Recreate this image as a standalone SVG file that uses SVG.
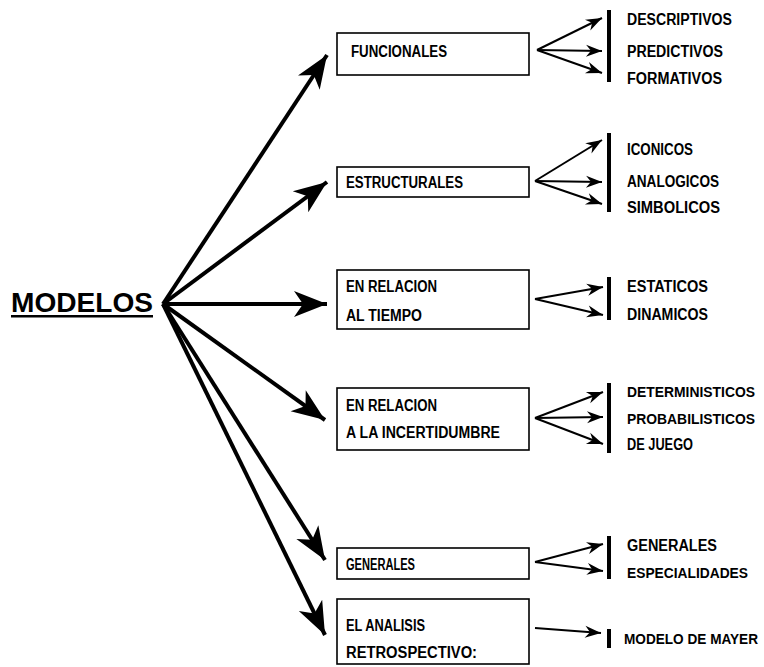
<svg xmlns="http://www.w3.org/2000/svg" width="764" height="667" viewBox="0 0 764 667">
  <style>
    .box { fill: none; stroke: #000; stroke-width: 1.6; }
    .lbl { font-family: "Liberation Sans", Arial, sans-serif; font-weight: bold; font-size: 16px; fill: #000; }
    .narrow { font-size: 14px; }
    .main { stroke: #000; stroke-width: 4; fill: none; marker-end: url(#bigHead); }
    .fan { stroke: #000; stroke-width: 2; fill: none; marker-end: url(#smallHead); }
    .bar { fill: #000; }
  </style>
  <defs>
    <marker id="bigHead" markerUnits="userSpaceOnUse" viewBox="-34 -15 36 30" markerWidth="36" markerHeight="30" refX="0" refY="0" orient="auto">
      <path d="M0,0 L-33,-13 L-24,0 L-33,13 Z" fill="#000"/>
    </marker>
    <marker id="smallHead" markerUnits="userSpaceOnUse" viewBox="-17 -7 18 14" markerWidth="18" markerHeight="14" refX="0" refY="0" orient="auto">
      <path d="M0,0 L-16,-6 L-11,0 L-16,6 Z" fill="#000"/>
    </marker>
  </defs>
  <rect width="764" height="667" fill="#fff"/>

  <!-- root node -->
  <g id="modelos">
    <text x="11" y="312" font-family="'Liberation Sans', Arial, sans-serif" font-weight="bold" font-size="28" textLength="142" lengthAdjust="spacingAndGlyphs">MODELOS</text>
    <rect x="11" y="315" width="142" height="2.5" fill="#000"/>
  </g>

  <!-- connectors -->
  <g id="connectors">
    <line class="main" x1="163" y1="304" x2="327" y2="55"/>
    <line class="main" x1="163" y1="304" x2="327" y2="182"/>
    <line class="main" x1="163" y1="304" x2="327" y2="304"/>
    <line class="main" x1="163" y1="304" x2="325" y2="420"/>
    <line class="main" x1="163" y1="304" x2="325" y2="560"/>
    <line class="main" x1="163" y1="304" x2="325" y2="635"/>

    <line class="fan" x1="537" y1="50" x2="602" y2="18"/>
    <line class="fan" x1="537" y1="50" x2="602" y2="51"/>
    <line class="fan" x1="537" y1="50" x2="602" y2="73"/>

    <line class="fan" x1="535" y1="181" x2="602" y2="140"/>
    <line class="fan" x1="535" y1="181" x2="602" y2="182"/>
    <line class="fan" x1="535" y1="181" x2="602" y2="204"/>

    <line class="fan" x1="535" y1="299" x2="603" y2="287"/>
    <line class="fan" x1="535" y1="299" x2="603" y2="315"/>

    <line class="fan" x1="535" y1="418" x2="603" y2="392"/>
    <line class="fan" x1="535" y1="418" x2="603" y2="417"/>
    <line class="fan" x1="535" y1="418" x2="603" y2="444"/>

    <line class="fan" x1="535" y1="562" x2="603" y2="544"/>
    <line class="fan" x1="535" y1="562" x2="603" y2="571"/>

    <line class="fan" x1="535" y1="628" x2="601" y2="633"/>
  </g>

  <!-- FUNCIONALES -->
  <g id="funcionales">
    <rect class="box" x="337" y="33" width="192" height="42"/>
    <text class="lbl" x="351" y="57" textLength="96" lengthAdjust="spacingAndGlyphs">FUNCIONALES</text>
  </g>
  <g id="funcionales-tipos">
    <rect class="bar" x="607" y="10" width="4" height="72"/>
    <text class="lbl" x="627" y="25" textLength="105" lengthAdjust="spacingAndGlyphs">DESCRIPTIVOS</text>
    <text class="lbl" x="627" y="57" textLength="96" lengthAdjust="spacingAndGlyphs">PREDICTIVOS</text>
    <text class="lbl" x="627" y="84" textLength="95" lengthAdjust="spacingAndGlyphs">FORMATIVOS</text>
  </g>

  <!-- ESTRUCTURALES -->
  <g id="estructurales">
    <rect class="box" x="337" y="167" width="192" height="30"/>
    <text class="lbl" x="346" y="188" textLength="117" lengthAdjust="spacingAndGlyphs">ESTRUCTURALES</text>
  </g>
  <g id="estructurales-tipos">
    <rect class="bar" x="607" y="133" width="4" height="79"/>
    <text class="lbl" x="627" y="155" textLength="66" lengthAdjust="spacingAndGlyphs">ICONICOS</text>
    <text class="lbl" x="627" y="187" textLength="92" lengthAdjust="spacingAndGlyphs">ANALOGICOS</text>
    <text class="lbl" x="627" y="213" textLength="93" lengthAdjust="spacingAndGlyphs">SIMBOLICOS</text>
  </g>

  <!-- EN RELACION AL TIEMPO -->
  <g id="tiempo">
    <rect class="box" x="337" y="270" width="192" height="59"/>
    <text class="lbl" x="346" y="292" textLength="91" lengthAdjust="spacingAndGlyphs">EN RELACION</text>
    <text class="lbl" x="346" y="321" textLength="76" lengthAdjust="spacingAndGlyphs">AL TIEMPO</text>
  </g>
  <g id="tiempo-tipos">
    <rect class="bar" x="607" y="277" width="4" height="43"/>
    <text class="lbl" x="627" y="292" textLength="81" lengthAdjust="spacingAndGlyphs">ESTATICOS</text>
    <text class="lbl" x="627" y="320" textLength="81" lengthAdjust="spacingAndGlyphs">DINAMICOS</text>
  </g>

  <!-- EN RELACION A LA INCERTIDUMBRE -->
  <g id="incertidumbre">
    <rect class="box" x="337" y="388" width="192" height="62"/>
    <text class="lbl" x="346" y="411" textLength="91" lengthAdjust="spacingAndGlyphs">EN RELACION</text>
    <text class="lbl" x="346" y="438" textLength="154" lengthAdjust="spacingAndGlyphs">A LA INCERTIDUMBRE</text>
  </g>
  <g id="incertidumbre-tipos">
    <rect class="bar" x="607" y="383" width="4" height="70"/>
    <text class="lbl narrow" x="627" y="397" textLength="128" lengthAdjust="spacingAndGlyphs">DETERMINISTICOS</text>
    <text class="lbl narrow" x="627" y="424" textLength="128" lengthAdjust="spacingAndGlyphs">PROBABILISTICOS</text>
    <text class="lbl" x="627" y="450" textLength="66" lengthAdjust="spacingAndGlyphs">DE JUEGO</text>
  </g>

  <!-- GENERALES -->
  <g id="generales">
    <rect class="box" x="337" y="548" width="192" height="31"/>
    <text class="lbl" x="346" y="570" textLength="69" lengthAdjust="spacingAndGlyphs">GENERALES</text>
  </g>
  <g id="generales-tipos">
    <rect class="bar" x="607" y="536" width="4" height="43"/>
    <text class="lbl" x="627" y="551" textLength="90" lengthAdjust="spacingAndGlyphs">GENERALES</text>
    <text class="lbl narrow" x="627" y="578" textLength="121" lengthAdjust="spacingAndGlyphs">ESPECIALIDADES</text>
  </g>

  <!-- EL ANALISIS RETROSPECTIVO -->
  <g id="retrospectivo">
    <rect class="box" x="337" y="599" width="192" height="65"/>
    <text class="lbl" x="346" y="631" textLength="79" lengthAdjust="spacingAndGlyphs">EL ANALISIS</text>
    <text class="lbl" x="346" y="658" textLength="131" lengthAdjust="spacingAndGlyphs">RETROSPECTIVO:</text>
  </g>
  <g id="mayer">
    <rect class="bar" x="607" y="629" width="4" height="19"/>
    <text class="lbl narrow" x="624" y="644" textLength="134" lengthAdjust="spacingAndGlyphs">MODELO DE MAYER</text>
  </g>
</svg>
